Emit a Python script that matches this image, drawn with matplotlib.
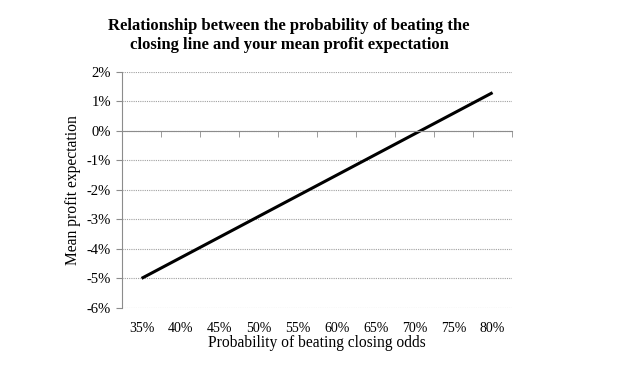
import matplotlib
matplotlib.use('Agg')
import matplotlib.pyplot as plt
from matplotlib.ticker import FixedLocator

# data
prob_labels = ['35%', '40%', '45%', '50%', '55%', '60%', '65%', '70%', '75%', '80%']
mean_profit = [-5.0, -4.3, -3.6, -2.9, -2.2, -1.5, -0.8, -0.1, 0.6, 1.3]
y_ticks = [-6, -5, -4, -3, -2, -1, 0, 1, 2]

plt.rcParams['font.family'] = 'Liberation Serif'

fig = plt.figure(figsize=(6.26, 3.75), dpi=100)
ax = fig.add_axes([0.195, 0.179, 0.623, 0.629])

x = list(range(len(prob_labels)))
ax.plot(x, mean_profit, color='black', linewidth=2.2, solid_capstyle='butt')

ax.set_xlim(-0.5, len(prob_labels) - 0.5)
ax.set_ylim(-6, 2)
ax.set_yticks(y_ticks)
ax.set_yticklabels([f'{v}%' for v in y_ticks], fontsize=10.5)
ax.set_xticks(x)
ax.set_xticklabels(prob_labels, fontsize=10.5)
ax.xaxis.set_minor_locator(FixedLocator([i - 0.5 for i in range(len(prob_labels) + 1)]))

grey = '#8c8c8c'
ax.yaxis.grid(True, linestyle=(0, (1, 1)), color='#a0a0a0', linewidth=0.8)
ax.set_axisbelow(True)

for s in ['right', 'bottom']:
    ax.spines[s].set_visible(False)
ax.spines['left'].set_color(grey)
ax.spines['top'].set_position(('data', 0))
ax.spines['top'].set_color(grey)

ax.tick_params(axis='y', direction='out', length=4, color=grey, pad=4)
ax.tick_params(axis='x', which='major', bottom=True, top=False, length=0, pad=10)
ax.tick_params(axis='x', which='minor', bottom=False, top=True, direction='in',
               length=4, color=grey)

ax.set_xlabel('Probability of beating closing odds', fontsize=11.2, labelpad=0)
ax.set_ylabel('Mean profit expectation', fontsize=11.2, labelpad=4)
fig.text(0.462, 0.905, 'Relationship between the probability of beating the\n'
         'closing line and your mean profit expectation',
         ha='center', va='center', fontsize=12, fontweight='bold', linespacing=1.2)

fig.savefig('out.png', dpi=100)
